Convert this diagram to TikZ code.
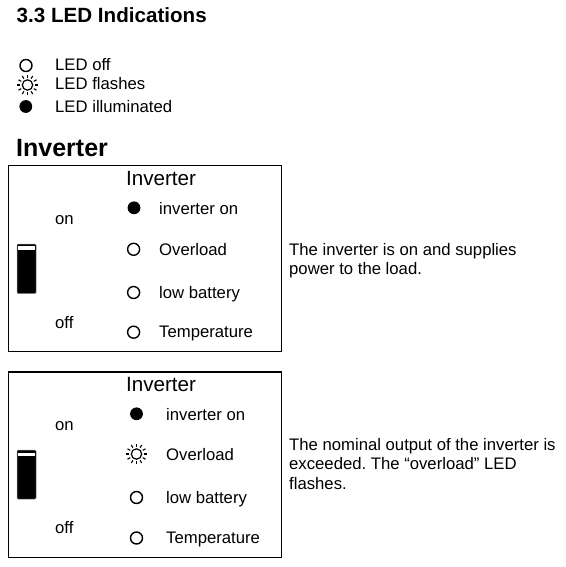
\documentclass[tikz,border=0pt]{standalone}
\usepackage{fontspec}
\setmainfont{Liberation Sans}
\frenchspacing
\begin{document}
\begin{tikzpicture}[x=1pt,y=-1pt,
  body/.style={inner sep=0pt, anchor=base west, font=\fontsize{16.7}{19.5}\selectfont},
  boxhead/.style={inner sep=0pt, anchor=base west, font=\fontsize{20.6}{23}\selectfont},
  panel/.style={draw=black, line width=1.1pt},
  ledoff/.style={draw=black, line width=1.4pt, fill=white},
  ledon/.style={fill=black},
  switchbody/.style={fill=black, draw=black!45, line width=0.5pt, rounded corners=1pt},
  pics/ledsun/.style={code={
    \draw[line width=1.2pt] (0,0) circle (5.2pt);
    \foreach \a in {0,30,...,330}
      \draw[line width=1.1pt] (\a:7.2pt) -- (\a:10.4pt);
  }}
]
\useasboundingbox (0,0) rectangle (565,567);

% Title
\node[inner sep=0pt, anchor=base west, font=\bfseries\fontsize{20.6}{23}\selectfont] (title) at (16.5,22.7) {3.3 LED Indications};

% Legend
\draw[ledoff] (26,65.5) circle (6pt);
\pic at (27.5,85) {ledsun};
\fill[ledon] (25.8,106.5) circle (6.4pt);
\node[body] (l1) at (55,71) {LED off};
\node[body] (l2) at (55,90) {LED flashes};
\node[body] (l3) at (55,112.3) {LED illuminated};

% Inverter heading
\node[inner sep=0pt, anchor=base west, font=\bfseries\fontsize{25}{28}\selectfont] (invhead) at (16,156.5) {Inverter};

% ---------- Panel 1 ----------
\draw[panel] (8.5,165.5) rectangle (281.5,351.5);
\node[boxhead] (p1h) at (126,185) {Inverter};
\node[body] (p1on) at (55,224) {on};
\node[body] (p1off) at (55,328) {off};
\draw[switchbody] (17,244) rectangle (36,293.5);
\fill[white] (18.3,246.3) rectangle (34.7,250);
\fill[ledon] (134,207.8) circle (6.4pt);
\draw[ledoff] (133.6,249.3) circle (6pt);
\draw[ledoff] (133.6,292.5) circle (6pt);
\draw[ledoff] (133.6,332.2) circle (6pt);
\node[body] (p1a) at (159,214.5) {inverter on};
\node[body] (p1b) at (159,255) {Overload};
\node[body] (p1c) at (159,298) {low battery};
\node[body] (p1d) at (159,337.5) {Temperature};
\node[body] (p1t1) at (289,255) {The inverter is on and supplies};
\node[body] (p1t2) at (289,274) {power to the load.};

% ---------- Panel 2 ----------
\draw[panel] (8.5,372) rectangle (281.5,557.5);
\node[boxhead] (p2h) at (126,391) {Inverter};
\node[body] (p2on) at (55,430) {on};
\node[body] (p2off) at (55,533) {off};
\draw[switchbody] (17,450) rectangle (36,499);
\fill[white] (18.3,452.5) rectangle (34.7,456);
\fill[ledon] (136.5,413.8) circle (6.4pt);
\pic at (136.5,454) {ledsun};
\draw[ledoff] (136.5,497.5) circle (6pt);
\draw[ledoff] (136.5,538) circle (6pt);
\node[body] (p2a) at (166,420) {inverter on};
\node[body] (p2b) at (166,460) {Overload};
\node[body] (p2c) at (166,503) {low battery};
\node[body] (p2d) at (166,543.5) {Temperature};
\node[body] (p2t1) at (289,450) {The nominal output of the inverter is};
\node[body] (p2t2) at (289,469.5) {exceeded. The “overload” LED};
\node[body] (p2t3) at (289,489) {flashes.};
\end{tikzpicture}
\end{document}
